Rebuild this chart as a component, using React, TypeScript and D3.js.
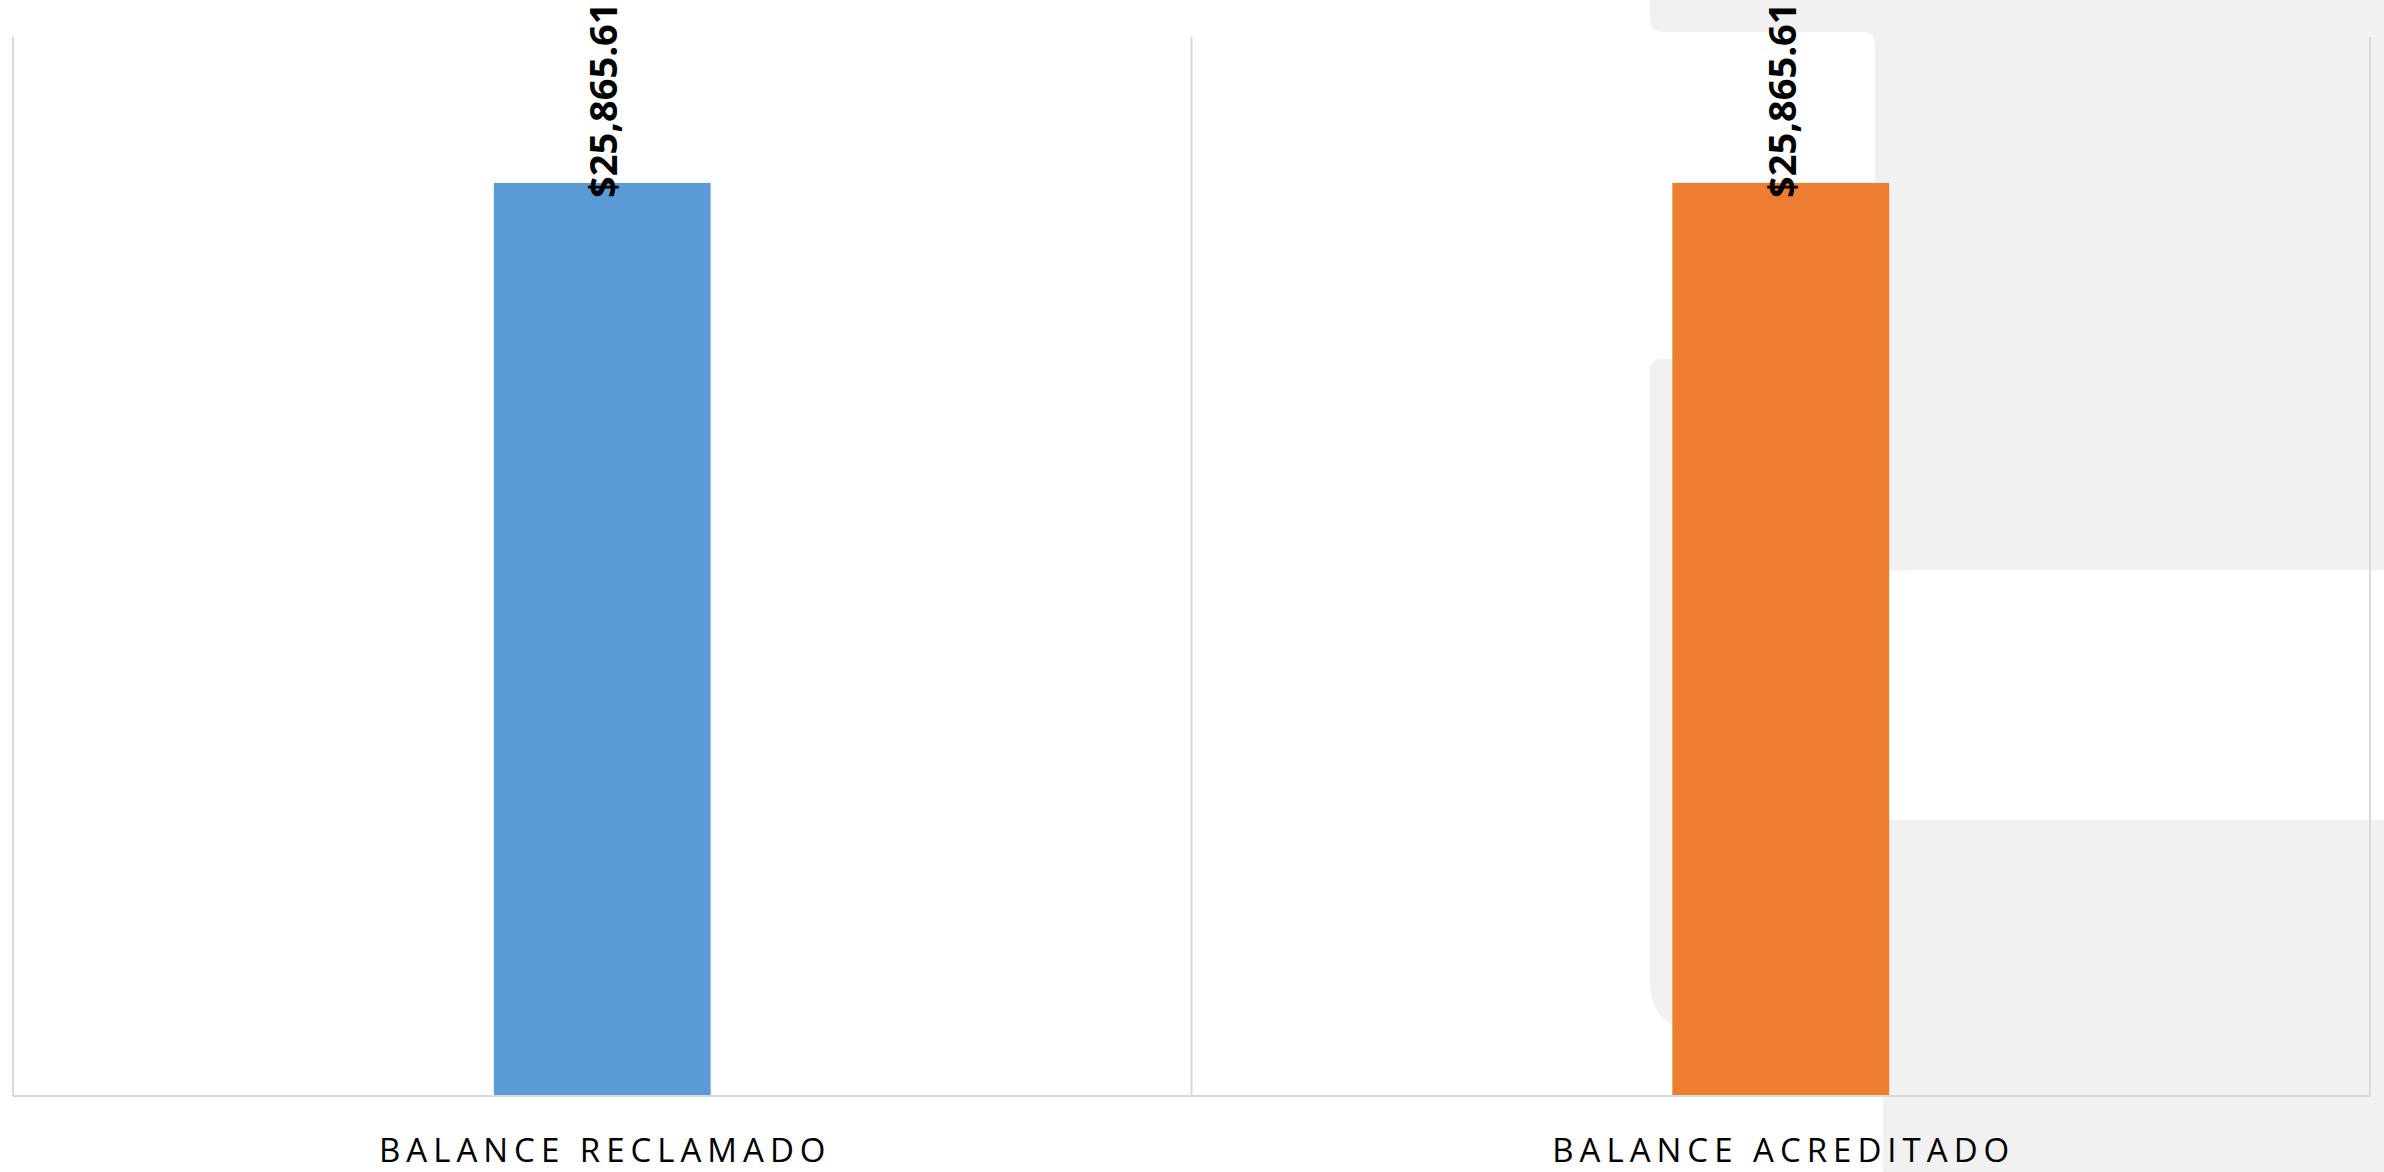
import React, { useEffect } from "react";
import * as d3 from "d3";

const categories = ["BALANCE RECLAMADO", "BALANCE ACREDITADO"];
const values = [25865.61, 25865.61];
const barColors = ["#5B9BD5", "#ED7D31"];
const yMax = 30000;

const W = 2384;
const H = 1172;

export default function App() {
  useEffect(() => {
    document.body.style.margin = "0";
    document.body.style.overflow = "hidden";
  }, []);

  const plotLeft = 13;
  const plotRight = 2370;
  const plotTop = 37;
  const plotBottom = 1096;

  const x = d3.scaleBand<string>().domain(categories).range([plotLeft, plotRight]).padding(0);
  const y = d3.scaleLinear().domain([0, yMax]).range([plotBottom, plotTop]);
  const barW = x.bandwidth() * 0.184;
  const fmt = (v: number) => "$" + d3.format(",.2f")(v);

  const boundaries = [...categories.map((c) => x(c) as number), plotRight];

  const grey = "#f0f1f0";
  const shapeA =
    "M1650,0 H2384 V570 H1875 V44 Q1875,32 1863,32 H1662 Q1650,32 1650,20 Z";
  const shapeB =
    "M1662,359 H1880 V1030 H1700 Q1650,1030 1650,980 V371 Q1650,359 1662,359 Z";
  const shapeC = "M1883,820 H2384 V1172 H1883 Z";

  return (
    <svg
      width={W}
      height={H}
      style={{ position: "absolute", left: 0, top: 0, display: "block", background: "#ffffff" }}
    >
      <rect x={0} y={0} width={W} height={H} fill="#ffffff" />
      <path d={shapeA} fill={grey} />
      <path d={shapeB} fill={grey} />
      <path d={shapeC} fill={grey} />

      {boundaries.map((bx, i) => (
        <line
          key={"v" + i}
          x1={bx}
          x2={bx}
          y1={plotTop}
          y2={plotBottom}
          stroke="#d9d9d9"
          strokeWidth={2}
        />
      ))}

      {categories.map((c, i) => {
        const cx = (x(c) as number) + x.bandwidth() / 2;
        return (
          <rect
            key={"b" + i}
            x={cx - barW / 2}
            y={y(values[i])}
            width={barW}
            height={plotBottom - y(values[i])}
            fill={barColors[i]}
          />
        );
      })}

      <line
        x1={plotLeft}
        x2={plotRight}
        y1={plotBottom}
        y2={plotBottom}
        stroke="#d9d9d9"
        strokeWidth={2}
      />

      {categories.map((c, i) => {
        const cx = (x(c) as number) + x.bandwidth() / 2;
        return (
          <text
            key={"l" + i}
            transform={`translate(${cx + 15},${y(values[i]) + 15}) rotate(-90)`}
            textAnchor="start"
            fontFamily="'Open Sans', sans-serif"
            fontWeight="bold"
            fontSize={38}
            fill="#000000"
          >
            {fmt(values[i])}
          </text>
        );
      })}

      {categories.map((c, i) => {
        const cx = (x(c) as number) + x.bandwidth() / 2;
        return (
          <text
            key={"c" + i}
            x={cx + 3}
            y={1162}
            textAnchor="middle"
            fontFamily="'Open Sans', sans-serif"
            fontSize={33}
            letterSpacing={6}
            fill="#000000"
          >
            {c}
          </text>
        );
      })}
    </svg>
  );
}
